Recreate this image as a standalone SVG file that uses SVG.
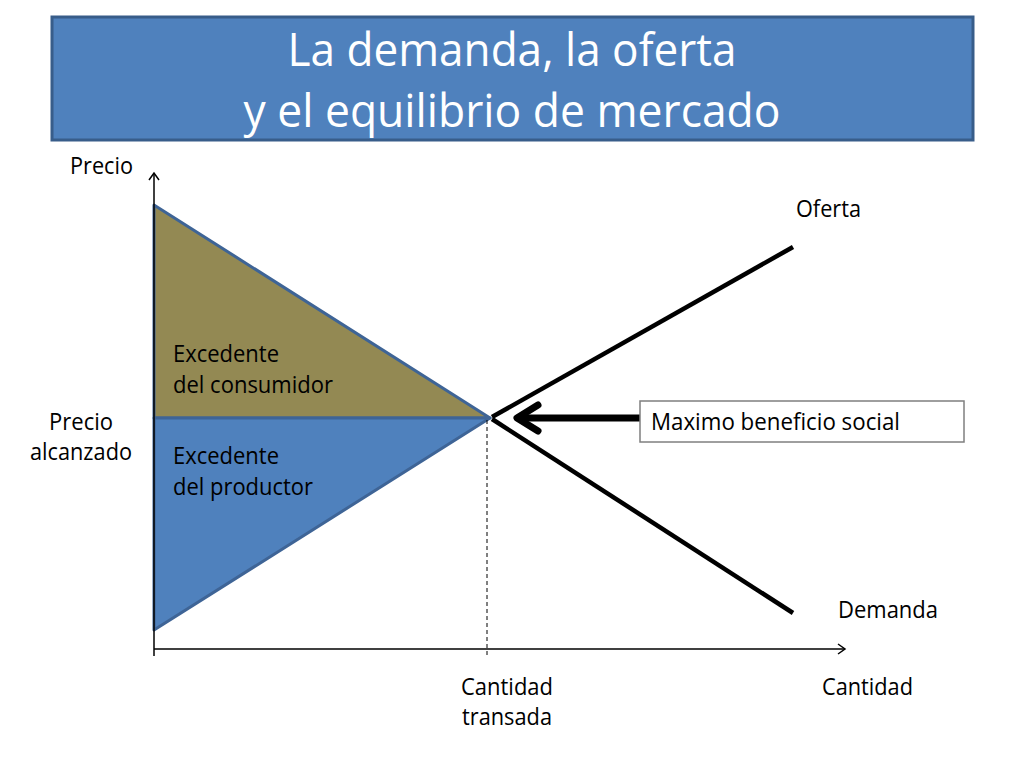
<svg xmlns="http://www.w3.org/2000/svg" width="1024" height="768" viewBox="0 0 1024 768">
<style>
.lbl{font-family:"Open Sans","Liberation Sans",sans-serif;font-size:23px;fill:#000}
.title{font-family:"Open Sans","Liberation Sans",sans-serif;font-size:46px;fill:#fff}
.axis{stroke:#000;stroke-width:1.5;fill:none}
.curve{stroke:#000;stroke-width:4.5;fill:none;stroke-linecap:butt}
</style>
<defs>
<marker id="ah" markerWidth="12" markerHeight="12" refX="10" refY="6" orient="auto" markerUnits="userSpaceOnUse">
<path d="M3,1 L10,6 L3,11" fill="none" stroke="#000" stroke-width="1.5"/>
</marker>
</defs>
<rect width="1024" height="768" fill="#fff"/>
<g id="title">
<rect x="52" y="17" width="921" height="123" fill="#4F81BD" stroke="#385D8A" stroke-width="3"/>
<text class="title" x="512" y="66" text-anchor="middle" textLength="449" lengthAdjust="spacingAndGlyphs">La demanda, la oferta</text>
<text class="title" x="512" y="127" text-anchor="middle" textLength="537" lengthAdjust="spacingAndGlyphs">y el equilibrio de mercado</text>
</g>
<g id="consumer-surplus">
<polygon points="154,205 490,418 154,418" fill="#938953" stroke="#3E6496" stroke-width="3" stroke-linejoin="round"/>
<text class="lbl" x="173" y="362" textLength="106" lengthAdjust="spacingAndGlyphs">Excedente</text>
<text class="lbl" x="173" y="393" textLength="160" lengthAdjust="spacingAndGlyphs">del consumidor</text>
</g>
<g id="producer-surplus">
<polygon points="154,418 490,418 154,630" fill="#4F81BD" stroke="#3E6496" stroke-width="3" stroke-linejoin="round"/>
<text class="lbl" x="173" y="464" textLength="106" lengthAdjust="spacingAndGlyphs">Excedente</text>
<text class="lbl" x="173" y="495" textLength="140" lengthAdjust="spacingAndGlyphs">del productor</text>
</g>
<g id="connectors">
<line class="axis" x1="154" y1="656" x2="154" y2="173" marker-end="url(#ah)"/>
<line class="axis" x1="154" y1="649" x2="845" y2="649" marker-end="url(#ah)"/>
<line x1="487" y1="420" x2="487" y2="656" stroke="#000" stroke-width="1" stroke-dasharray="4,3"/>
<line class="curve" x1="492" y1="417" x2="793" y2="247"/>
<line class="curve" x1="492" y1="419" x2="793" y2="613"/>
<line x1="640" y1="418" x2="520" y2="418" stroke="#000" stroke-width="7"/>
<path d="M538,405 L517,418 L538,431" fill="none" stroke="#000" stroke-width="7" stroke-linecap="round" stroke-linejoin="round"/>
</g>
<g id="max-benefit">
<rect x="640" y="401" width="324" height="41" fill="#fff" stroke="#7F7F7F" stroke-width="1.5"/>
<text class="lbl" x="651" y="430" textLength="249" lengthAdjust="spacingAndGlyphs">Maximo beneficio social</text>
</g>
<g id="labels">
<text class="lbl" x="70" y="174" textLength="63" lengthAdjust="spacingAndGlyphs">Precio</text>
<text class="lbl" x="796" y="217" textLength="65" lengthAdjust="spacingAndGlyphs">Oferta</text>
<text class="lbl" x="49" y="430" textLength="64" lengthAdjust="spacingAndGlyphs">Precio</text>
<text class="lbl" x="30" y="460" textLength="102" lengthAdjust="spacingAndGlyphs">alcanzado</text>
<text class="lbl" x="838" y="618" textLength="100" lengthAdjust="spacingAndGlyphs">Demanda</text>
<text class="lbl" x="461" y="695" textLength="92" lengthAdjust="spacingAndGlyphs">Cantidad</text>
<text class="lbl" x="462" y="725" textLength="90" lengthAdjust="spacingAndGlyphs">transada</text>
<text class="lbl" x="822" y="695" textLength="91" lengthAdjust="spacingAndGlyphs">Cantidad</text>
</g>
</svg>
